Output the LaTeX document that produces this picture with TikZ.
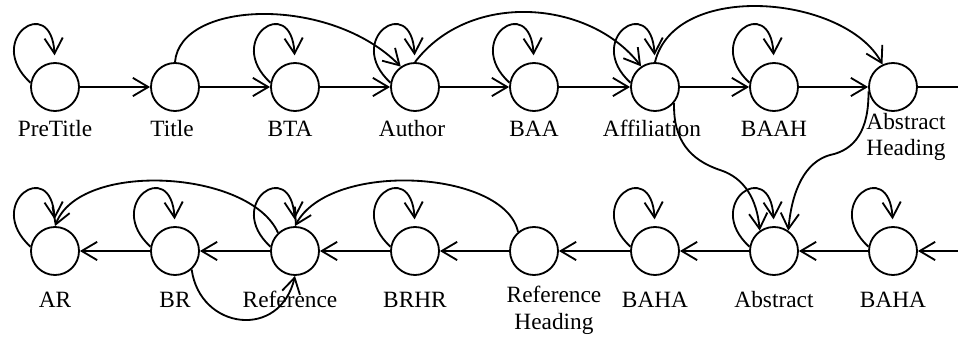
\documentclass[tikz,border=0pt]{standalone}
\usepackage{fontspec}
\setmainfont{Liberation Serif}
\usetikzlibrary{arrows.meta}

\tikzset{
  state/.style={circle, draw, minimum size=1.2cm, inner sep=0pt},
  lbl/.style={anchor=base, inner sep=0pt, align=center, font=\fontsize{16.6}{19.2}\selectfont},
  selfloop/.style={->, shorten >=0.17cm},
}

\begin{document}
\begin{tikzpicture}[line width=1.3pt, >={Straight Barb[length=11pt,width=13pt]}]
        \useasboundingbox (0,0) rectangle (23.95,8.425);

        % upper row
        \node[state] (pretitle) at (1.375,6.25) {};
        \node[state] (title) at (4.375,6.25) {};
        \node[state] (bta) at (7.375,6.25) {};
        \node[state] (author) at (10.375,6.25) {};
        \node[state] (baa) at (13.35,6.25) {};
        \node[state] (affil) at (16.375,6.25) {};
        \node[state] (baah) at (19.35,6.25) {};
        \node[state] (abshead) at (22.325,6.25) {};
        \coordinate (outR) at (23.95,6.25);

        \node[lbl] (pretitleL) at (1.375,5.0) {PreTitle};
        \node[lbl] (titleL) at (4.3,5.0) {Title};
        \node[lbl] (btaL) at (7.25,5.0) {BTA};
        \node[lbl] (authorL) at (10.3,5.0) {Author};
        \node[lbl] (baaL) at (13.35,5.0) {BAA};
        \node[lbl] (affilL) at (16.3,5.0) {Affiliation};
        \node[lbl] (baahL) at (19.35,5.0) {BAAH};
        \node[lbl] (absheadL) at (22.65,4.525) {Abstract\\Heading};

        % lower row
        \node[state] (ar) at (1.375,2.15) {};
        \node[state] (br) at (4.375,2.15) {};
        \node[state] (ref) at (7.375,2.15) {};
        \node[state] (brhr) at (10.375,2.15) {};
        \node[state] (refhead) at (13.35,2.15) {};
        \node[state] (baha) at (16.375,2.15) {};
        \node[state] (abstract) at (19.35,2.15) {};
        \node[state] (bahab) at (22.325,2.15) {};
        \coordinate (inR) at (23.95,2.15);

        \node[lbl] (arL) at (1.375,0.75) {AR};
        \node[lbl] (brL) at (4.375,0.75) {BR};
        \node[lbl] (refL) at (7.25,0.75) {Reference};
        \node[lbl] (brhrL) at (10.375,0.75) {BRHR};
        \node[lbl] (refheadL) at (13.85,0.2) {Reference\\Heading};
        \node[lbl] (bahaL) at (16.375,0.75) {BAHA};
        \node[lbl] (abstractL) at (19.35,0.75) {Abstract};
        \node[lbl] (bahabL) at (22.325,0.75) {BAHA};

        % chain
        \draw[->] (pretitle) -- (title);
        \draw[->] (title) -- (bta);
        \draw[->] (bta) -- (author);
        \draw[->] (author) -- (baa);
        \draw[->] (baa) -- (affil);
        \draw[->] (affil) -- (baah);
        \draw[->] (baah) -- (abshead);
        \draw (abshead) -- (outR);

        \draw[->] (inR) -- (bahab);
        \draw[->] (bahab) -- (abstract);
        \draw[->] (abstract) -- (baha);
        \draw[->] (baha) -- (refhead);
        \draw[->] (refhead) -- (brhr);
        \draw[->] (brhr) -- (ref);
        \draw[->] (ref) -- (br);
        \draw[->] (br) -- (ar);

        % self loops
        \foreach \n in {pretitle,bta,author,baa,affil,baah,ar,br,ref,brhr,baha,abstract,bahab}
            \draw[selfloop] (\n.170) .. controls +(-1.175,1.075) and +(-0.1,1.75) .. (\n.north);

        % skips
        \draw[->] (title.north) .. controls (4.5,8.425) and (8.25,8.55) .. (author.125);
        \draw[->] (author.north) .. controls (11.75,8.675) and (14.75,8.425) .. (affil.124);
        \draw[->] (affil.north) .. controls (16.875,8.925) and (21.125,8.55) .. (abshead.115);

        \draw[->] (affil.-40) .. controls (16.825,4.925) and (17.25,4.425) .. (18.0,4.175)
            .. controls (18.625,3.975) and (18.925,3.425) .. (abstract.125);
        \draw[->] (abshead.190) .. controls (21.725,5.175) and (21.375,4.675) .. (20.75,4.55)
            .. controls (20.125,4.375) and (19.8,3.675) .. (abstract.55);

        \draw[->] (refhead.130) .. controls (12.625,4.175) and (8.25,4.425) .. (ref.north);
        \draw[->] (ref.133) .. controls (6.25,4.175) and (2.0,4.425) .. (ar.north);
        \draw[->] (br.-48) .. controls (5.0,0.175) and (7.0,-0.075) .. (ref.south);
    \end{tikzpicture}
\end{document}
